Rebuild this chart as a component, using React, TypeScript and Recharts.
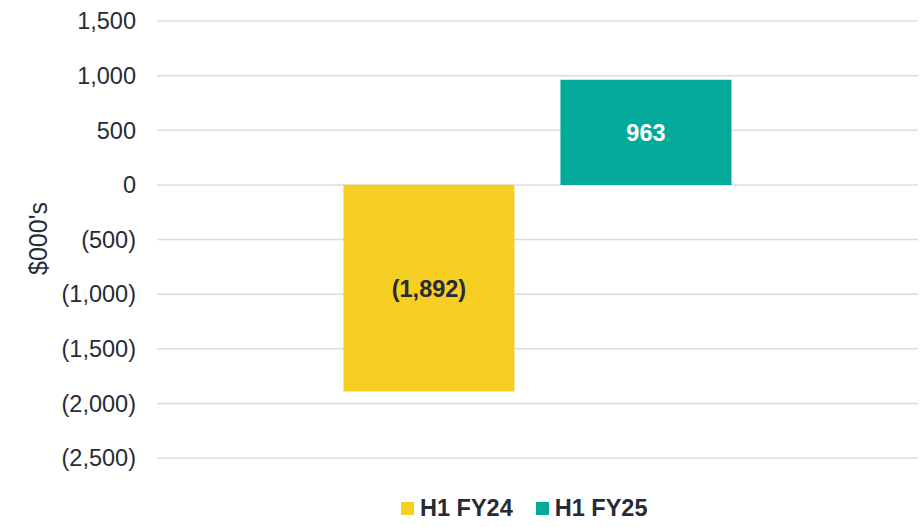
import { BarChart, Bar, XAxis, YAxis, CartesianGrid, Legend, LabelList } from 'recharts';

const CATEGORIES = ['H1'];
const FY24_VALUES = [-1892];
const FY25_VALUES = [963];
const Y_TICKS = [-2500, -2000, -1500, -1000, -500, 0, 500, 1000, 1500];

const SERIES = [
  { key: 'fy24', name: 'H1 FY24', color: '#F7CF22', labelColor: '#262B36' },
  { key: 'fy25', name: 'H1 FY25', color: '#03A999', labelColor: '#FFFFFF' },
];

const data = CATEGORIES.map((c, i) => ({ name: c, fy24: FY24_VALUES[i], fy25: FY25_VALUES[i] }));

const FONT = '"Liberation Sans", Arial, sans-serif';
const TEXT = '#262B36';

const fmt = (v: number) => {
  const s = Math.abs(v).toLocaleString('en-US');
  return v < 0 ? `(${s})` : s;
};

function LegendContent() {
  return (
    <div style={{ height: 64, paddingTop: 38, paddingLeft: 401, boxSizing: 'border-box', display: 'flex', fontFamily: FONT }}>
      {SERIES.map((s) => (
        <div key={s.key} style={{ display: 'flex', alignItems: 'center', marginRight: 23, height: 24 }}>
          <span style={{ width: 13, height: 13, background: s.color, display: 'inline-block', marginRight: 6 }} />
          <span style={{ fontWeight: 'bold', fontSize: 23.5, color: TEXT, lineHeight: '24px' }}>{s.name}</span>
        </div>
      ))}
    </div>
  );
}

const YLabel = (props: any) => {
  const vb = props.viewBox || { x: 0, y: 0, height: 0 };
  const cx = 38;
  const cy = vb.y + vb.height / 2 - 1;
  return (
    <text x={cx} y={cy} transform={`rotate(-90 ${cx} ${cy})`} textAnchor="middle" dominantBaseline="central"
      fill={TEXT} fontSize={25} fontFamily={FONT}>
      $000's
    </text>
  );
};

export default function App() {
  return (
    <div style={{ position: 'absolute', left: 0, top: 0, background: '#fff' }}>
      <BarChart width={923} height={527} data={data} margin={{ top: 21, right: 5, left: 0, bottom: 5 }}
        barCategoryGap="24.5%" barGap={46}>
        <CartesianGrid vertical={false} stroke="#D9DCE4" strokeWidth={1.5} />
        <XAxis dataKey="name" hide />
        <YAxis
          width={157}
          domain={[-2500, 1500]}
          ticks={Y_TICKS}
          interval={0}
          tickFormatter={fmt}
          axisLine={false}
          tickLine={false}
          tickSize={0}
          tickMargin={21}
          tick={{ fill: TEXT, fontSize: 23.5, fontFamily: FONT }}
          label={<YLabel />}
        />
        <Legend verticalAlign="bottom" content={<LegendContent />} />
        {SERIES.map((s) => (
          <Bar key={s.key} dataKey={s.key} name={s.name} fill={s.color} isAnimationActive={false}>
            <LabelList dataKey={s.key} position="center" formatter={(v: any) => fmt(Number(v))}
              fill={s.labelColor} fontSize={23.5} fontWeight="bold" fontFamily={FONT} />
          </Bar>
        ))}
      </BarChart>
    </div>
  );
}
